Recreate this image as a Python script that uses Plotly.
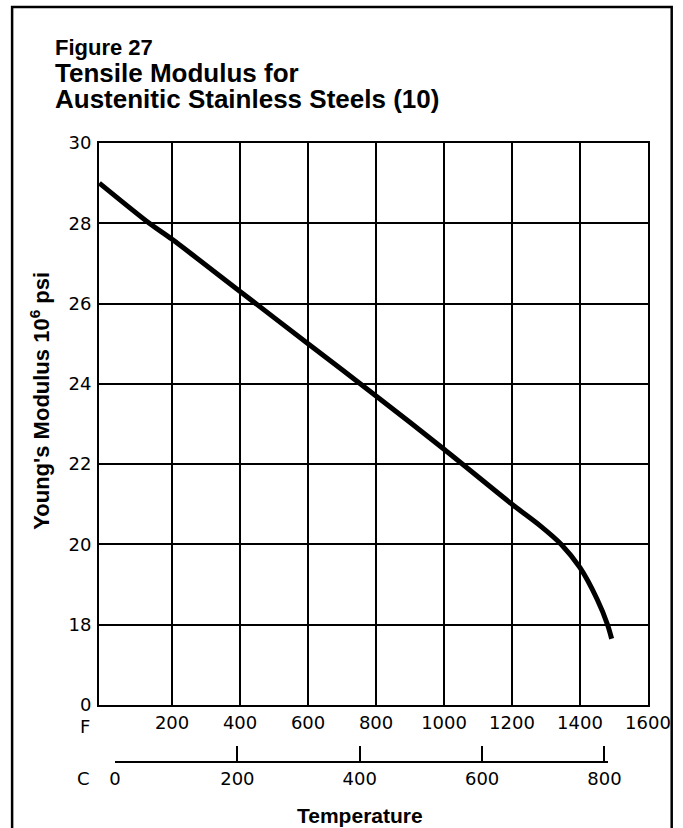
import plotly.graph_objects as go

# Young's modulus of austenitic stainless steels vs temperature
temp_f = [-14, 133, 200, 400, 600, 800, 1000, 1200, 1285, 1345, 1400, 1450, 1481, 1493]
modulus = [29.0, 28.0, 27.6, 26.3, 25.0, 23.7, 22.37, 21.0, 20.45, 20.0, 19.42, 18.64, 18.0, 17.65]

f_ticks = [200, 400, 600, 800, 1000, 1200, 1400, 1600]
c_ticks = [0, 200, 400, 600, 800]
y_ticks = [16, 18, 20, 22, 24, 26, 28, 30]
y_labels = ["0", "18", "20", "22", "24", "26", "28", "30"]

F_RANGE = [-15, 1600]
C_END = 805

W, H = 683, 828
L, R, T, B = 99, 28, 143, 66
PW, PH = W - L - R, H - T - B


def px(x):
    return (x - L) / PW


def py(y):
    return (H - B - y) / PH


def f_frac(f):
    return (f - F_RANGE[0]) / (F_RANGE[1] - F_RANGE[0])


def c_to_f(c):
    return c * 1.8 + 32


FONT = "Liberation Sans, Arial, sans-serif"
TICK_FONT = "DejaVu Sans, sans-serif"
INK = "black"

fig = go.Figure()
fig.add_trace(go.Scatter(
    x=temp_f, y=modulus, mode="lines",
    line=dict(color=INK, width=5, shape="spline", smoothing=0.8),
    hoverinfo="skip", showlegend=False,
))
# same curve in Celsius, carried on the Celsius scale (not visible)
fig.add_trace(go.Scatter(
    x=[(f - 32) / 1.8 for f in temp_f], y=modulus, mode="lines",
    xaxis="x2", yaxis="y", opacity=0,
    line=dict(color=INK, width=1), hoverinfo="skip", showlegend=False,
))

axis_common = dict(
    showline=True, linecolor=INK, linewidth=2,
    showgrid=True, gridcolor=INK, gridwidth=1.6,
    zeroline=False, ticks="",
    tickfont=dict(family=TICK_FONT, size=18, color=INK),
)

fig.update_layout(
    width=W, height=H,
    margin=dict(l=L, r=R, t=T, b=B),
    paper_bgcolor="white", plot_bgcolor="rgba(0,0,0,0)",
    font=dict(family=FONT, color=INK),
    xaxis=dict(
        **axis_common, range=F_RANGE, tickvals=f_ticks, mirror=True,
        anchor="y",
    ),
    yaxis=dict(
        **axis_common, range=[16, 30], tickvals=y_ticks, ticktext=y_labels,
        mirror=True, domain=[py(705), 1], ticklabelstandoff=2,
    ),
    xaxis2=dict(
        anchor="free", position=0,
        domain=[f_frac(c_to_f(0)), f_frac(c_to_f(C_END))],
        range=[0, C_END], tickvals=c_ticks,
        showline=True, linecolor=INK, linewidth=2,
        showgrid=False, zeroline=False,
        ticks="inside", ticklen=15, tickwidth=2, tickcolor=INK,
        tickfont=dict(family=TICK_FONT, size=18, color=INK),
    ),
    showlegend=False,
)

annotations = [
    dict(text="<b>Figure 27</b>", x=px(52), y=py(47), size=22, font=FONT, xanchor="left"),
    dict(text="<b>Tensile Modulus for</b>", x=px(52), y=py(73), size=26, font=FONT, xanchor="left"),
    dict(text="<b>Austenitic Stainless Steels (10)</b>", x=px(52), y=py(99), size=26, font=FONT, xanchor="left"),
    dict(text="F", x=px(85), y=py(726), size=18, font=TICK_FONT, xanchor="center"),
    dict(text="C", x=px(83), y=py(778), size=18, font=TICK_FONT, xanchor="center"),
    dict(text="<b>Temperature</b>", x=px(363), y=py(815), size=21, font=FONT, xanchor="center"),
]
for a in annotations:
    fig.add_annotation(
        text=a["text"], x=a["x"], y=a["y"], xref="paper", yref="paper",
        xanchor=a["xanchor"], yanchor="middle", showarrow=False,
        font=dict(family=a["font"], size=a["size"], color=INK),
    )

fig.add_annotation(
    text="<b>Young's Modulus 10<sup>6</sup> psi</b>",
    x=px(39), y=py(401), xref="paper", yref="paper",
    textangle=-90, showarrow=False, xanchor="center", yanchor="middle",
    font=dict(family=FONT, size=22, color=INK),
)

# outer frame around the figure
fig.add_shape(
    type="rect", xref="paper", yref="paper",
    x0=px(11), x1=px(679), y0=py(840), y1=py(7),
    line=dict(color=INK, width=2.5), fillcolor="rgba(0,0,0,0)", layer="above",
)

fig.write_html("out.html")
